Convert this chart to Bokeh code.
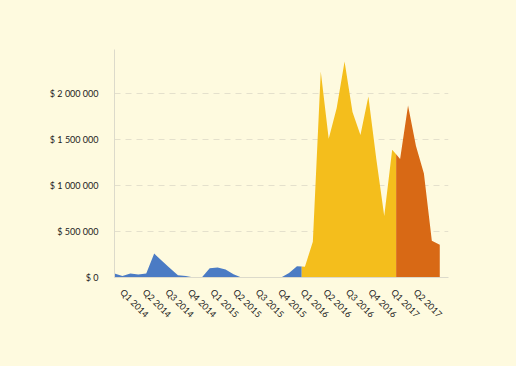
import numpy as np
from bokeh.plotting import figure
from bokeh.models import Range1d, FixedTicker
from bokeh.embed import file_html
from bokeh.resources import INLINE

# monthly sales (USD), Jan 2014 .. Jun 2017
months = list(range(42))
sales = [43000, 15000, 43000, 33000, 43000, 260000, 180000, 100000, 25000, 15000,
         0, 0, 100000, 110000, 87000, 36000, 0, 0, 0, 0,
         0, 0, 50000, 123000, 116000, 390000, 2240000, 1510000, 1840000, 2350000,
         1800000, 1550000, 1970000, 1290000, 670000, 1390000, 1290000, 1870000, 1430000, 1130000,
         400000, 355000]

quarter_labels = ["Q1 2014", "Q2 2014", "Q3 2014", "Q4 2014", "Q1 2015", "Q2 2015", "Q3 2015",
                  "Q4 2015", "Q1 2016", "Q2 2016", "Q3 2016", "Q4 2016", "Q1 2017", "Q2 2017"]
y_ticks = [0, 500000, 1000000, 1500000, 2000000]
y_labels = ["$ 0", "$ 500 000", "$ 1 000 000", "$ 1 500 000", "$ 2 000 000"]

colors = ["#4B7BC4", "#F4BE1C", "#D86915"]
BG = "#FEFADF"

# colour band boundaries along x (index units)
bounds = [0, 23.6, 35.5, 41]

x = np.array(months, dtype=float)
y = np.array(sales, dtype=float)

p = figure(width=516, height=366, output_backend="svg", toolbar_location=None,
           x_range=Range1d(0, 42.1), y_range=Range1d(0, 2480000),
           min_border_left=114, min_border_right=68, min_border_top=49, min_border_bottom=89,
           background_fill_color=BG, border_fill_color=BG, outline_line_color=None)

for k in range(3):
    a, b = bounds[k], bounds[k + 1]
    inner = x[(x > a) & (x < b)]
    xs = np.concatenate([[a], inner, [b]])
    ys = np.interp(xs, x, y)
    p.varea(x=xs, y1=0, y2=ys, fill_color=colors[k])

q_step = 22.56 / 7.93
tick_pos = [0.95 + i * q_step for i in range(len(quarter_labels))]
p.xaxis.ticker = FixedTicker(ticks=tick_pos)
p.xaxis.major_label_overrides = {t: l for t, l in zip(tick_pos, quarter_labels)}
p.xaxis.major_label_orientation = -np.pi / 4
p.yaxis.ticker = FixedTicker(ticks=y_ticks)
p.yaxis.major_label_overrides = {t: l for t, l in zip(y_ticks, y_labels)}

for ax in (p.xaxis, p.yaxis):
    ax.axis_line_color = "#DCDACB"
    ax.major_tick_line_color = None
    ax.minor_tick_line_color = None
    ax.major_label_text_font = "Lato"
    ax.major_label_text_font_size = "9px"
    ax.major_label_text_color = "#222222"
p.yaxis.major_label_standoff = 10
p.xaxis.major_label_standoff = 7

p.xgrid.grid_line_color = None
p.ygrid.grid_line_color = "#E4E0CC"
p.ygrid.grid_line_dash = "6 5"

html = file_html(p, INLINE)
style = "<style>html,body{margin:0;padding:0;overflow:hidden;background:%s;}</style>" % BG
html = html.replace("</head>", style + "</head>", 1)
open("out.html", "w").write(html)
